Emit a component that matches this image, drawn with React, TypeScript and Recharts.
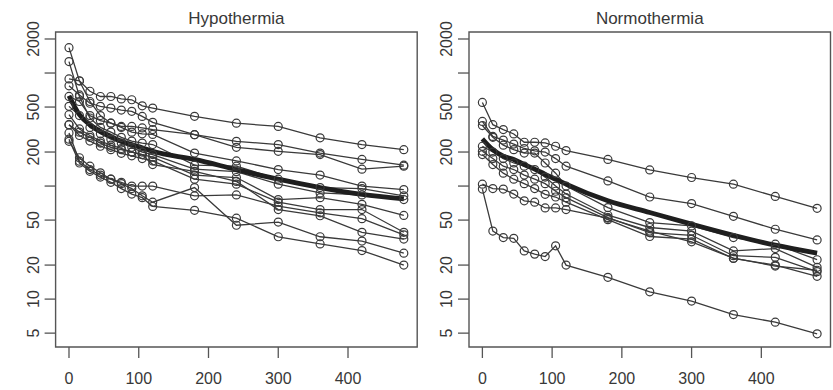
import React from 'react';
import { LineChart, Line, XAxis, YAxis, ReferenceArea } from 'recharts';

const times = [0, 15, 30, 45, 60, 75, 90, 105, 120, 180, 240, 300, 360, 420, 480];
const xTicks = [0, 100, 200, 300, 400];
const yTicks = [5, 10, 20, 50, 100, 200, 500, 1000, 2000];
const yTickLabels = ['5', '10', '20', '50', '', '200', '500', '', '2000'];
const panelTitles = ['Hypothermia', 'Normothermia'];

// Hypothermia subjects
const hypo01 = [887, 853, 690, 620, 620, 590, 580, 513, 490, 414, 360, 337, 267, 233, 210];
const hypo02 = [771, 640, 540, 507, 490, 470, 458, 413, 366, 285, 249, 233, 196, 172, 153];
const hypo03 = [621, 560, 420, 380, 360, 337, 337, 327, 316, 285, 220, 203, 190, 141, 150];
const hypo04 = [1676, 850, 560, 420, 360, 330, 300, 290, 286, 196, 167, 140, 125, 100, 93];
const hypo05 = [1262, 620, 400, 330, 300, 270, 250, 240, 233, 153, 150, 115, 97, 95, 82];
const hypo06 = [507, 420, 330, 290, 260, 240, 220, 200, 190, 141, 134, 104, 87, 83.5, 76];
const hypo07 = [349, 300, 270, 240, 220, 210, 200, 190, 180, 125, 119, 76, 79, 69, 55];
const hypo08 = [349, 280, 250, 225, 210, 195, 185, 175, 167, 115, 104, 72, 62, 62, 39];
const hypo09 = [295, 166, 140, 125, 115, 108, 100, 100, 100, 82, 83.5, 66.5, 58, 51.5, 37];
const hypo10 = [428, 320, 280, 250, 230, 215, 200, 190, 155, 135, 110, 62, 54.6, 39, 34];
const hypo11 = [249, 178, 150, 131, 115, 105, 95, 82, 72, 97, 45, 48, 35.6, 32.6, 25.5];
const hypo12 = [260, 160, 135, 120, 108, 95, 85, 79, 66, 61, 52, 35.6, 30.8, 26.9, 20];
const hypoMean = [630, 428, 349, 305, 275, 249, 233, 218, 203, 172, 140, 115, 97, 84.5, 77];

// Normothermia subjects
const normo01 = [549, 349, 316, 289, 244, 244, 241, 225, 206, 172, 139, 119, 104, 81, 63.6];
const normo02 = [373, 275, 255, 235, 215, 205, 200, 175, 150, 111, 80, 70, 54, 41.5, 33.4];
const normo03 = [343, 270, 230, 210, 196, 196, 160, 130, 100, 64.5, 47.5, 44.4, 35, 30.6, 22.3];
const normo04 = [225, 200, 175, 160, 150, 140, 120, 100, 85, 55.2, 43, 40, 26.7, 28, 19.1];
const normo05 = [203, 175, 150, 140, 125, 115, 105, 90, 79, 52.6, 38.8, 36.7, 24.2, 23.4, 17.5];
const normo06 = [190, 155, 130, 115, 105, 95, 84.5, 80, 72, 50.4, 35.8, 33.9, 22.9, 20, 15.9];
const normo07 = [104, 95, 94, 85, 74, 72, 64, 64, 62, 52, 40, 32.1, 23, 19.6, 18];
const normo08 = [94, 40, 35, 34.5, 26.7, 25, 23.8, 29.6, 20, 15.6, 11.6, 9.6, 7.3, 6.25, 4.93];
const normoMean = [261, 210, 184, 172, 155, 141, 127, 115, 104, 74, 58.3, 46, 36.7, 30, 25.5];

const hypoSeries = [hypo01, hypo02, hypo03, hypo04, hypo05, hypo06, hypo07, hypo08, hypo09, hypo10, hypo11, hypo12];
const normoSeries = [normo01, normo02, normo03, normo04, normo05, normo06, normo07, normo08];

const X_DOMAIN: [number, number] = [-19.2, 499.2];
const Y_DOMAIN: [number, number] = [3.77, 2306];

const FONT = '"Liberation Sans", Arial, Helvetica, sans-serif';
const TEXT_COLOR = '#383838';
const LINE_COLOR = '#3a3a3a';
const BOX_COLOR = '#555';

const CHART_H = 390;
const PLOT_TOP = 32;
const PLOT_BOTTOM = 347;
const Y_AXIS_W = 40;
const X_AXIS_H = 40;

function buildData(series: number[][], mean: number[]) {
  return times.map((t, i) => {
    const row: Record<string, number> = { t };
    series.forEach((s, j) => {
      row['s' + j] = s[i];
    });
    row.mean = mean[i];
    return row;
  });
}

type PanelProps = {
  title: string;
  series: number[][];
  mean: number[];
  left: number;
  width: number;
  plotLeft: number;
  plotRight: number;
};

function Panel({ title, series, mean, left, width, plotLeft, plotRight }: PanelProps) {
  const data = buildData(series, mean);
  const margin = {
    top: PLOT_TOP,
    right: width - plotRight,
    bottom: CHART_H - PLOT_BOTTOM - X_AXIS_H,
    left: plotLeft - Y_AXIS_W,
  };
  const yLabelX = plotLeft - 22;
  const xLabelY = PLOT_BOTTOM + 31.5;

  const renderYTick = (props: any) => {
    const { y, payload } = props;
    const idx = yTicks.indexOf(payload.value);
    const label = idx >= 0 ? yTickLabels[idx] : '';
    if (!label) return <g />;
    return (
      <text
        x={yLabelX}
        y={y}
        transform={`rotate(-90, ${yLabelX}, ${y})`}
        textAnchor="middle"
        dominantBaseline="central"
        fontSize={16}
        fontFamily={FONT}
        fill={TEXT_COLOR}
      >
        {label}
      </text>
    );
  };

  const renderXTick = (props: any) => {
    const { x, payload } = props;
    return (
      <text
        x={x}
        y={xLabelY}
        textAnchor="middle"
        dominantBaseline="central"
        fontSize={16}
        fontFamily={FONT}
        fill={TEXT_COLOR}
      >
        {payload.value}
      </text>
    );
  };

  const center = (plotLeft + plotRight) / 2;

  return (
    <div style={{ position: 'absolute', left, top: 0, width, height: CHART_H }}>
      <div
        style={{
          position: 'absolute',
          left: center - 100,
          width: 200,
          top: 8.6,
          textAlign: 'center',
          fontSize: 17,
          lineHeight: '20px',
          fontFamily: FONT,
          color: TEXT_COLOR,
        }}
      >
        {title}
      </div>
      <LineChart width={width} height={CHART_H} data={data} margin={margin}>
        <XAxis
          dataKey="t"
          type="number"
          domain={X_DOMAIN}
          allowDataOverflow
          ticks={xTicks}
          axisLine={false}
          tickLine={{ stroke: BOX_COLOR, strokeWidth: 1.3 }}
          tickSize={11}
          height={X_AXIS_H}
          tick={renderXTick}
          interval={0}
        />
        <YAxis
          type="number"
          scale="log"
          domain={Y_DOMAIN}
          allowDataOverflow
          ticks={yTicks}
          axisLine={false}
          tickLine={{ stroke: BOX_COLOR, strokeWidth: 1.3 }}
          tickSize={11}
          width={Y_AXIS_W}
          tick={renderYTick}
          interval={0}
        />
        <ReferenceArea
          x1={X_DOMAIN[0]}
          x2={X_DOMAIN[1]}
          y1={Y_DOMAIN[0]}
          y2={Y_DOMAIN[1]}
          fill="none"
          fillOpacity={0}
          stroke={BOX_COLOR}
          strokeWidth={1.4}
          ifOverflow="visible"
        />
        {series.map((_, j) => (
          <Line
            key={'s' + j}
            dataKey={'s' + j}
            type="linear"
            stroke={LINE_COLOR}
            strokeWidth={1.3}
            dot={{ r: 4, stroke: LINE_COLOR, strokeWidth: 1.2, fill: 'none' }}
            activeDot={false}
            isAnimationActive={false}
          />
        ))}
        <Line
          dataKey="mean"
          type="monotone"
          stroke="#1e1e1e"
          strokeWidth={4.8}
          dot={false}
          activeDot={false}
          isAnimationActive={false}
        />
      </LineChart>
    </div>
  );
}

export default function App() {
  return (
    <div style={{ position: 'absolute', left: 0, top: 0, width: 833, height: 390, background: '#fff' }}>
      <Panel
        title={panelTitles[0]}
        series={hypoSeries}
        mean={hypoMean}
        left={0}
        width={420}
        plotLeft={55.6}
        plotRight={417.2}
      />
      <Panel
        title={panelTitles[1]}
        series={normoSeries}
        mean={normoMean}
        left={420}
        width={413}
        plotLeft={49}
        plotRight={410.5}
      />
    </div>
  );
}
